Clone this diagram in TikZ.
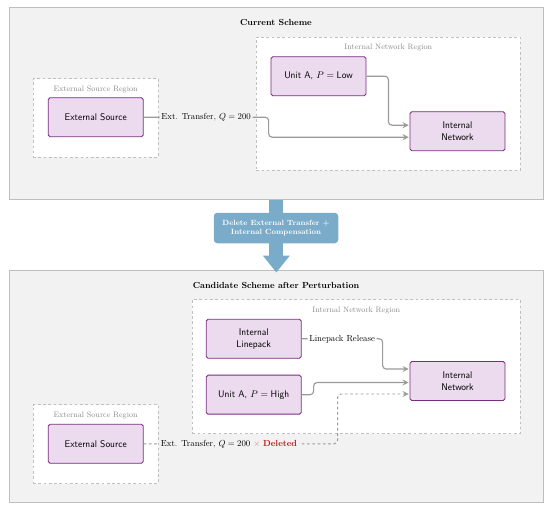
\documentclass[tikz,border=0pt]{standalone}
\usepackage{amsmath}
\usetikzlibrary{arrows.meta, calc, positioning}
\definecolor{panelFill}{RGB}{242,242,242}
\definecolor{panelLine}{RGB}{190,190,190}
\definecolor{boxFill}{RGB}{236,218,238}
\definecolor{boxLine}{RGB}{122,45,128}
\definecolor{flowGray}{RGB}{155,155,155}
\definecolor{stepBlue}{RGB}{122,172,202}
\definecolor{delRed}{RGB}{190,25,25}
\tikzstyle{panel} = [rectangle, fill=panelFill, draw=panelLine, line width=0.9pt, inner sep=0pt]
\tikzstyle{region} = [rectangle, fill=white, draw=gray!50, dashed, line width=0.7pt, inner sep=0pt]
\tikzstyle{regionLbl} = [font=\small, text=gray!90, inner sep=1pt]
\tikzstyle{panelTitle} = [font=\bfseries]
\tikzstyle{unit} = [rectangle, rounded corners=2pt, minimum width=38mm, minimum height=15.6mm, fill=boxFill, draw=boxLine, line width=1pt, align=center, font=\sffamily\fontsize{11}{13.5}\selectfont]
\tikzstyle{flow} = [draw=flowGray, line width=1.3pt, rounded corners=4pt, -{Stealth[length=7pt, width=7pt, inset=2.5pt]}, shorten >=1pt]
\tikzstyle{flowDel} = [flow, dashed, line width=1.1pt]
\tikzstyle{flowLbl} = [fill=panelFill, inner sep=2pt, text=black]
\tikzstyle{stepArrow} = [draw=stepBlue, line width=5.6mm, -{Triangle[length=6.8mm, width=10.4mm]}, shorten >=-1mm]
\tikzstyle{stepLbl} = [rectangle, rounded corners=4pt, fill=stepBlue, text=white, font=\fontsize{8.6}{11}\selectfont\bfseries, align=center, minimum width=49.8mm, minimum height=12.2mm]

\begin{document}
\begin{tikzpicture}[x=0.4mm, y=-0.4mm]

    \useasboundingbox (0,0) rectangle (550,520);

    % current scheme
    \node (topPanel) [panel, minimum width=213.7mm, minimum height=77mm, anchor=north west] at (8.8,6.7) {};
    \node (topTitle) [panelTitle] at (276,22.3) {Current Scheme};

    \node (regExt) [region, minimum width=50mm, minimum height=31.4mm, anchor=north west] at (32.8,78.3) {};
    \node (regExtLbl) [regionLbl, below=2.6mm of regExt.north] {External Source Region};
    \node (regInt) [region, minimum width=105.6mm, minimum height=53.3mm, anchor=north west] at (256,36.7) {};
    \node (regIntLbl) [regionLbl, below=2.6mm of regInt.north] {Internal Network Region};

    \node (extSrc) [unit] at (95.7,117.2) {External Source};
    \node (unitLow) [unit] at (318.5,76.2) {Unit A, $P = \text{Low}$};
    \node (intNet) [unit] at (457.5,131.2) {Internal\\Network};

    \draw [flow] (unitLow.east) -- ++(22,0) |- ($(intNet.west)+(0,-6)$);
    \draw [flow] (extSrc.east) -- node[flowLbl] {Ext. Transfer, $Q = 200$} ++(125,0) |- ($(intNet.west)+(0,6)$);

    % candidate scheme
    \node (botPanel) [panel, minimum width=213.7mm, minimum height=92.9mm, anchor=north west] at (8.8,270) {};
    \node (botTitle) [panelTitle] at (276,285) {Candidate Scheme after Perturbation};

    \node (regInt2) [region, minimum width=131.2mm, minimum height=53.6mm, anchor=north west] at (192,299.3) {};
    \node (regInt2Lbl) [regionLbl, below=2.6mm of regInt2.north] {Internal Network Region};
    \node (regExt2) [region, minimum width=50mm, minimum height=31.6mm, anchor=north west] at (32.8,404.3) {};
    \node (regExt2Lbl) [regionLbl, below=2.6mm of regExt2.north] {External Source Region};

    \node (linepack) [unit] at (253.7,338.8) {Internal\\Linepack};
    \node (unitHigh) [unit, below=6.4mm of linepack] {Unit A, $P = \text{High}$};
    \node (intNet2) [unit] at (457.5,381) {Internal\\Network};
    \node (extSrc2) [unit] at (95.7,443.8) {External Source};

    \draw [flow] (linepack.east) -- node[flowLbl, fill=white] {Linepack Release} ++(81,0) |- ($(intNet2.west)+(0,-12)$);
    \draw [flow] (unitHigh.east) -- ++(12,0) |- ($(intNet2.west)+(0,1.5)$);
    \draw [flowDel] (extSrc2.east) -- node[flowLbl, pos=0.44] {Ext. Transfer, $Q = 200$ {\color{delRed!60}$\times$} {\color{delRed}\textbf{Deleted}}} ++(194,0) |- ($(intNet2.west)+(0,13)$);

    % perturbation step
    \draw [stepArrow] (topPanel.south) -- (botPanel.north);
    \node (stepBox) [stepLbl] at (276,228) {Delete External Transfer +\\Internal Compensation};

\end{tikzpicture}
\end{document}
